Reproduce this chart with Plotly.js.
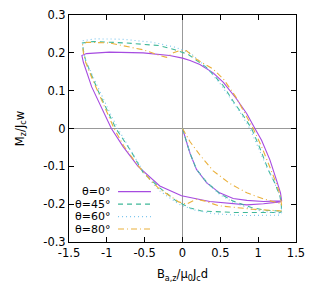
<!DOCTYPE html>
<html>
<head>
<meta charset="utf-8">
<script src="https://cdn.plot.ly/plotly-3.0.1.min.js"></script>
<style>html,body{margin:0;padding:0;background:#fff;}#chart{width:314px;height:294px;}</style>
</head>
<body>
<div id="chart"></div>
<script>
// Series labels
const seriesNames = ["θ=0°", "θ=45°", "θ=60°", "θ=80°"];

// θ=0° : initial curve, descending branch, ascending branch
const b0 = [0,0.05,0.1,0.185,0.32,0.49,0.67,0.85,1.07,1.2,1.31,
  1.295,1.275,1.24,1.155,1.045,0.957,0.85,0.715,0.54,0.405,0.23,0.1,0,-0.17,-0.52,-0.965,-1.27,-1.33,
  -1.31,-1.2,-1.05,-0.94,-0.785,-0.587,-0.3,-0.013,0.36,0.63,0.85,1.07,1.29,1.31];
const m0 = [0,-0.035,-0.066,-0.108,-0.144,-0.170,-0.185,-0.190,-0.193,-0.192,-0.191,
  -0.17,-0.155,-0.135,-0.083,-0.031,0,0.039,0.078,0.122,0.147,0.169,0.180,0.186,0.193,0.200,0.202,0.198,0.193,
  0.175,0.11,0.048,0,-0.048,-0.1,-0.152,-0.178,-0.193,-0.199,-0.202,-0.199,-0.194,-0.191];

// θ=45°
const b45 = [0,0.05,0.1,0.185,0.32,0.49,0.67,0.91,1.1,1.27,1.31,
  1.305,1.288,1.22,1.133,1.023,0.913,0.80,0.67,0.54,0.32,0.075,-0.1,-0.3,-0.74,-1.18,-1.323,
  -1.31,-1.28,-1.2,-1.116,-1.0,-0.88,-0.68,-0.52,-0.3,-0.08,0.1,0.25,0.69,1.0,1.29,1.31];
const m45 = [0,-0.035,-0.066,-0.108,-0.142,-0.172,-0.192,-0.209,-0.216,-0.218,-0.218,
  -0.2,-0.179,-0.144,-0.109,-0.052,0,0.035,0.072,0.113,0.161,0.196,0.208,0.219,0.226,0.23,0.226,
  0.205,0.18,0.14,0.1,0.05,0,-0.06,-0.117,-0.157,-0.192,-0.21,-0.218,-0.222,-0.222,-0.222,-0.218];

// θ=60°
const b60 = [0,0.05,0.1,0.185,0.32,0.49,0.67,0.91,1.1,1.27,1.31,
  1.305,1.28,1.21,1.12,1.0,0.89,0.77,0.64,0.5,0.3,0.1,-0.1,-0.4,-0.8,-1.15,-1.323,
  -1.305,-1.27,-1.19,-1.1,-0.98,-0.855,-0.68,-0.5,-0.3,-0.05,0.15,0.4,0.8,1.1,1.29,1.31];
const m60 = [0,-0.035,-0.066,-0.108,-0.143,-0.174,-0.195,-0.213,-0.22,-0.223,-0.225,
  -0.2,-0.175,-0.14,-0.105,-0.05,0,0.04,0.078,0.118,0.165,0.2,0.215,0.228,0.236,0.237,0.232,
  0.2,0.175,0.14,0.1,0.05,0,-0.06,-0.12,-0.165,-0.2,-0.215,-0.225,-0.23,-0.23,-0.229,-0.225];

// θ=80°
const b80 = [0,0.1,0.23,0.405,0.63,0.85,1.07,1.29,1.31,
  1.305,1.29,1.23,1.15,1.05,0.935,0.85,0.7,0.54,0.405,0.185,0.05,-0.05,-0.12,-0.21,-0.3,-0.52,-0.96,-1.27,-1.32,
  -1.31,-1.28,-1.2,-1.1,-1.0,-0.904,-0.78,-0.6,-0.43,-0.3,-0.15,-0.05,0.05,0.185,0.3,0.47,0.91,1.2,1.31];
const m80 = [0,-0.035,-0.07,-0.112,-0.146,-0.17,-0.186,-0.198,-0.203,
  -0.19,-0.175,-0.14,-0.1,-0.05,0,0.032,0.085,0.131,0.157,0.183,0.206,0.205,0.2,0.188,0.193,0.208,0.226,0.228,0.222,
  0.2,0.175,0.135,0.09,0.045,0,-0.045,-0.095,-0.135,-0.161,-0.18,-0.194,-0.2,-0.187,-0.192,-0.204,-0.213,-0.217,-0.218];

const colors = ["#a64be0", "#3fb898", "#7cc6ee", "#eab03a"];
const dashes = ["solid", "5px,4px", "1px,3px", "6px,3px,1px,3px"];
const xs = [b0, b45, b60, b80];
const ys = [m0, m45, m60, m80];

const traces = xs.map((x, i) => ({
  x: x, y: ys[i], type: "scatter", mode: "lines", name: seriesNames[i],
  line: {color: colors[i], width: 1.1, dash: dashes[i]}, showlegend: false
}));

const fontFam = "DejaVu Sans, sans-serif";
const fs = 11.5;
const legY = [0.222, 0.167, 0.112, 0.057];
const annotations = seriesNames.map((n, i) => ({
  xref: "paper", yref: "paper", x: 0.183, y: legY[i], text: n, showarrow: false,
  xanchor: "right", yanchor: "middle", height: 11, borderpad: 0,
  font: {family: fontFam, size: 11, color: "#000"}
}));
const shapes = seriesNames.map((n, i) => ({
  type: "line", xref: "paper", yref: "paper", x0: 0.216, x1: 0.361, y0: legY[i], y1: legY[i],
  line: {color: colors[i], width: 1.1, dash: dashes[i]}
}));

const layout = {
  width: 314, height: 294,
  margin: {l: 69, r: 18, t: 15, b: 52, pad: 0},
  paper_bgcolor: "#fff", plot_bgcolor: "#fff",
  font: {family: fontFam, size: fs, color: "#000"},
  xaxis: {
    range: [-1.5, 1.5], tickvals: [-1.5, -1, -0.5, 0, 0.5, 1, 1.5],
    ticktext: ["-1.5", "-1", "-0.5", "0", "0.5", "1", "1.5"],
    ticks: "inside", ticklen: 5, tickcolor: "#000", mirror: "ticks",
    showline: true, linecolor: "#000", linewidth: 1, showgrid: false,
    zeroline: true, zerolinecolor: "#999", zerolinewidth: 1,
    tickfont: {family: fontFam, size: fs},
    title: {text: "B<sub>a,z</sub>/μ<sub>0</sub>J<sub>c</sub>d", font: {family: fontFam, size: fs}, standoff: 11},
    automargin: false
  },
  yaxis: {
    range: [-0.3, 0.3], tickvals: [-0.3, -0.2, -0.1, 0, 0.1, 0.2, 0.3],
    ticktext: ["-0.3", "-0.2", "-0.1", "0", "0.1", "0.2", "0.3"],
    ticks: "inside", ticklen: 5, tickcolor: "#000", mirror: "ticks",
    showline: true, linecolor: "#000", linewidth: 1, showgrid: false,
    zeroline: true, zerolinecolor: "#999", zerolinewidth: 1,
    tickfont: {family: fontFam, size: fs},
    title: {text: "M<sub>z</sub>/J<sub>c</sub>w", font: {family: fontFam, size: fs}, standoff: 16},
    automargin: false
  },
  annotations: annotations,
  shapes: shapes,
  showlegend: false
};

Plotly.newPlot("chart", traces, layout, {staticPlot: true, displayModeBar: false});
</script>
</body>
</html>
